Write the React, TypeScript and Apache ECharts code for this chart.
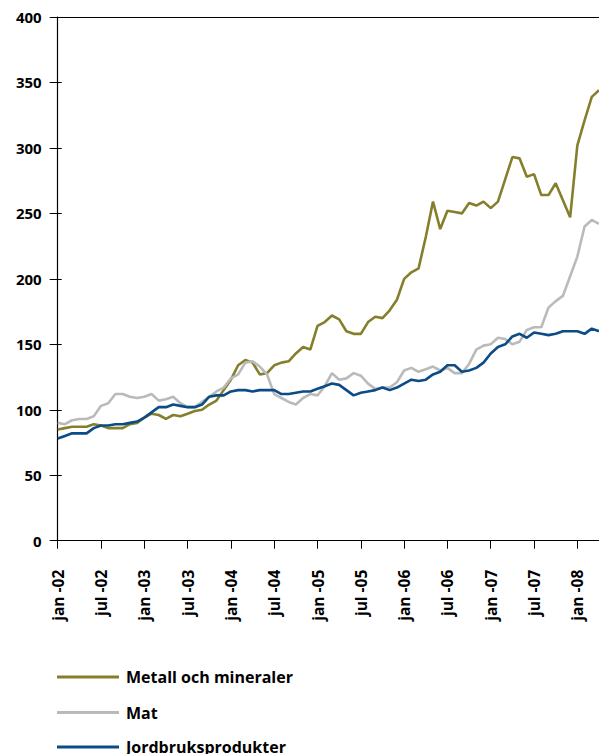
import React, { useEffect, useRef } from "react";
import * as echarts from "echarts";

const monthNames = ["jan", "feb", "mar", "apr", "maj", "jun", "jul", "aug", "sep", "okt", "nov", "dec"];
const years = ["02", "03", "04", "05", "06", "07", "08"];
const categories: string[] = [];
years.forEach((y) => monthNames.forEach((m) => categories.push(`${m} -${y}`)));
const months = categories.slice(0, 76);

const metall = [
  85, 86, 87, 87, 87, 89, 88, 86, 86, 86, 89, 90,
  94, 97, 96, 93, 96, 95, 97, 99, 100, 104, 107, 115,
  123, 134, 138, 136, 127, 128, 134, 136, 137, 143, 148, 146,
  164, 167, 172, 169, 160, 158, 158, 167, 171, 170, 176, 184,
  200, 205, 208, 232, 259, 238, 252, 251, 250, 258, 256, 259,
  254, 259, 276, 293, 292, 278, 280, 264, 264, 273, 260, 247,
  302, 321, 339, 344,
];

const mat = [
  90, 89, 92, 93, 93, 95, 103, 105, 112, 112, 110, 109,
  110, 112, 107, 108, 110, 105, 102, 102, 106, 110, 114, 117,
  124, 127, 136, 137, 133, 127, 112, 109, 106, 104, 109, 112,
  111, 118, 128, 123, 124, 128, 126, 120, 116, 117, 117, 121,
  130, 132, 129, 131, 133, 130, 132, 128, 128, 135, 146, 149,
  150, 155, 154, 150, 152, 161, 163, 163, 178, 183, 187, 202,
  217, 240, 245, 242,
];

const jordbruk = [
  78, 80, 82, 82, 82, 86, 88, 88, 89, 89, 90, 91,
  94, 98, 102, 102, 104, 103, 102, 102, 104, 110, 111, 111,
  114, 115, 115, 114, 115, 115, 115, 112, 112, 113, 114, 114,
  116, 118, 120, 119, 115, 111, 113, 114, 115, 117, 115, 117,
  120, 123, 122, 123, 127, 129, 134, 134, 129, 130, 132, 136,
  143, 148, 150, 156, 158, 155, 159, 158, 157, 158, 160, 160,
  160, 158, 162, 160,
];

const seriesNames = ["Metall och mineraler", "Mat", "Jordbruksprodukter"];
const seriesColors = ["#857f2c", "#bababa", "#0b4c86"];
const seriesData = [metall, mat, jordbruk];

const FONT = "'Open Sans', 'Noto Sans', sans-serif";

export default function App() {
  const ref = useRef<HTMLDivElement>(null);
  useEffect(() => {
    if (!ref.current) return;
    const chart = echarts.init(ref.current, undefined, { renderer: "svg" });
    const legendTops = [667, 702.5, 737];
    chart.setOption({
      animation: false,
      backgroundColor: "#ffffff",
      grid: { left: 57.7, top: 17, width: 542.7, height: 523.7, containLabel: false },
      xAxis: [
        {
          type: "category",
          data: months,
          boundaryGap: false,
          axisLine: { show: true, lineStyle: { color: "#000", width: 1.2 } },
          axisTick: { show: true, interval: 5, length: 8, lineStyle: { color: "#000", width: 1 } },
          axisLabel: {
            interval: 5,
            rotate: 90,
            margin: 29,
            color: "#000",
            fontFamily: FONT,
            fontWeight: "bold",
            fontSize: 15.5,
          },
          splitLine: { show: false },
        },
        {
          type: "category",
          data: months,
          boundaryGap: false,
          position: "top",
          axisLine: { show: true, onZero: false, lineStyle: { color: "#000", width: 1 } },
          axisTick: { show: false },
          axisLabel: { show: false },
          splitLine: { show: false },
        },
      ],
      yAxis: [
        {
          type: "value",
          min: 0,
          max: 400,
          interval: 50,
          axisLine: { show: true, lineStyle: { color: "#000", width: 1.2 } },
          axisTick: { show: true, length: 8, lineStyle: { color: "#000", width: 1 } },
          axisLabel: {
            margin: 16,
            color: "#000",
            fontFamily: FONT,
            fontWeight: "bold",
            fontSize: 15,
          },
          splitLine: { show: false },
        },
        {
          type: "value",
          min: 0,
          max: 400,
          interval: 50,
          position: "left",
          axisLine: { show: false },
          axisTick: { show: true, inside: true, length: 4, lineStyle: { color: "#000", width: 1 } },
          axisLabel: { show: false },
          splitLine: { show: false },
        },
      ],
      legend: seriesNames.map((name, i) => ({
        data: [name],
        orient: "vertical",
        left: 57,
        top: legendTops[i],
        padding: 0,
        icon: "rect",
        itemWidth: 62,
        itemHeight: 3,
        itemGap: 8,
        selectedMode: false,
        textStyle: {
          color: "#000",
          fontFamily: FONT,
          fontWeight: "bold",
          fontSize: 16,
          lineHeight: 20,
          padding: [0, 0, 0, 2],
        },
      })),
      series: seriesNames.map((name, i) => ({
        name,
        type: "line",
        data: seriesData[i],
        symbol: "none",
        color: seriesColors[i],
        lineStyle: { width: 2.6, color: seriesColors[i] },
        xAxisIndex: 0,
        yAxisIndex: 0,
      })),
    });
    return () => chart.dispose();
  }, []);
  return (
    <div
      ref={ref}
      style={{ position: "absolute", left: 0, top: 0, width: 599, height: 754 }}
    />
  );
}
